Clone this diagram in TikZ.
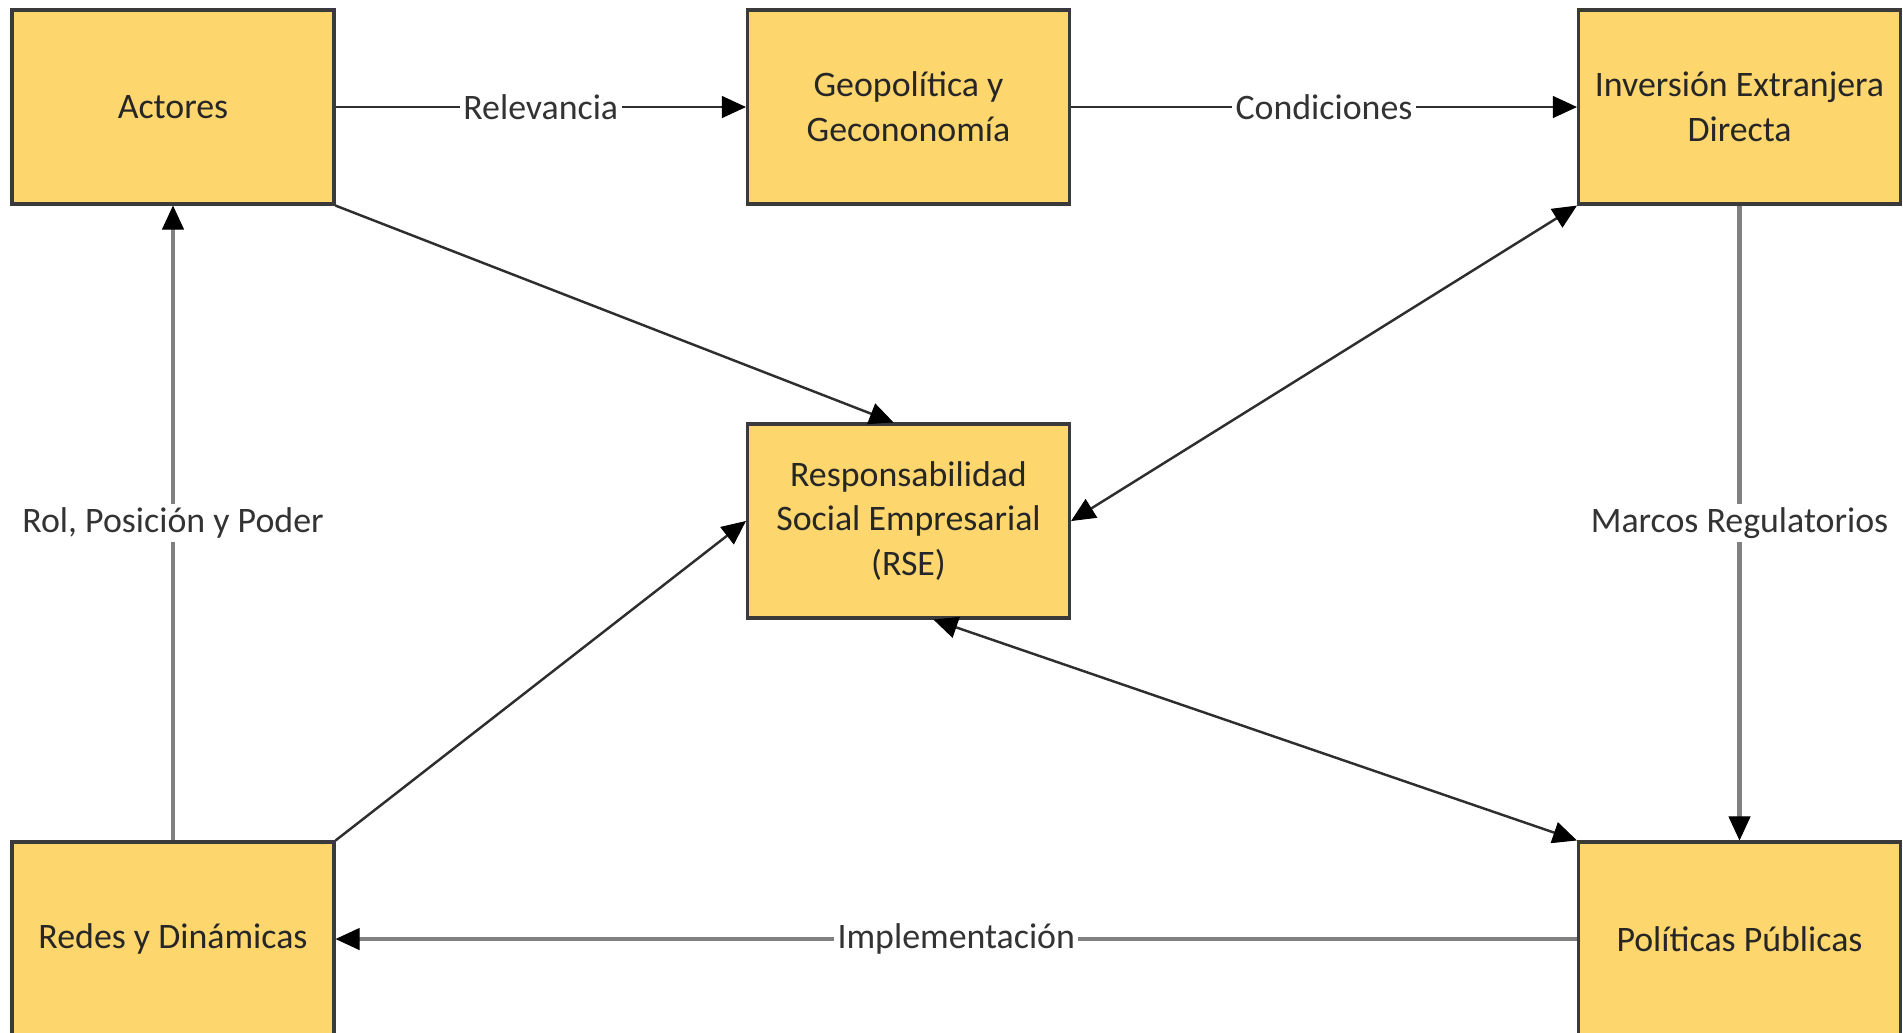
\documentclass[tikz,border=0pt]{standalone}
\usepackage{fontspec}
\setmainfont{Carlito}
\usetikzlibrary{arrows.meta}

\definecolor{boxfill}{HTML}{FDD66E}
\definecolor{boxline}{HTML}{3A3A3A}
\definecolor{darkline}{HTML}{2E2E2E}
\definecolor{grayline}{HTML}{808080}
\definecolor{labeltext}{HTML}{333333}

\tikzset{
  block/.style={draw=boxline, line width=0.9pt, fill=boxfill,
    minimum width=3.22cm, minimum height=1.94cm, inner sep=0,
    align=center, text=black!85,
    font=\fontsize{10.2}{12.8}\selectfont},
  tip/.style={-{Triangle[length=0.24cm,width=0.22cm,color=black,line width=0.3pt]}},
  darkarrow/.style={draw=darkline, line width=0.7pt, tip},
  grayarrow/.style={draw=grayline, line width=1.3pt, tip},
  bothtips/.style={{Triangle[length=0.24cm,width=0.22cm,color=black,line width=0.3pt]}-{Triangle[length=0.24cm,width=0.22cm,color=black,line width=0.3pt]}},
  edgelabel/.style={fill=white, inner sep=1pt, text=labeltext,
    font=\fontsize{10.2}{12.8}\selectfont}
}

\begin{document}
\begin{tikzpicture}

\useasboundingbox (0,0) rectangle (19.03,-10.32);

\node[block] (actores) at (1.73,-1.07) {Actores};
\node[block] (geo) at (9.085,-1.07) {Geopolítica y\\Gecononomía};
\node[block] (ied) at (17.395,-1.07) {Inversión Extranjera\\Directa};
\node[block] (rse) at (9.085,-5.21) {Responsabilidad\\Social Empresarial\\(RSE)};
\node[block] (redes) at (1.73,-9.39) {Redes y Dinámicas};
\node[block] (politicas) at (17.395,-9.39) {Políticas Públicas};

\draw[darkarrow] (actores) -- (geo)
  node[midway, edgelabel] {Relevancia};
\draw[darkarrow] (geo) -- (ied)
  node[midway, edgelabel] {Condiciones};

\draw[darkarrow] (actores.south east) -- ([xshift=-1.5mm]rse.north);
\draw[darkarrow, bothtips] (rse.east) -- (ied.south west);
\draw[darkarrow, bothtips] ([xshift=2.5mm]rse.south) -- (politicas.north west);
\draw[darkarrow] (redes.north east) -- (rse.west);

\draw[grayarrow] (redes) -- (actores)
  node[midway, edgelabel] {Rol, Posición y Poder};
\draw[grayarrow] (ied) -- (politicas)
  node[midway, edgelabel] {Marcos Regulatorios};
\draw[grayarrow] (politicas) -- (redes)
  node[midway, edgelabel] {Implementación};

\end{tikzpicture}
\end{document}
